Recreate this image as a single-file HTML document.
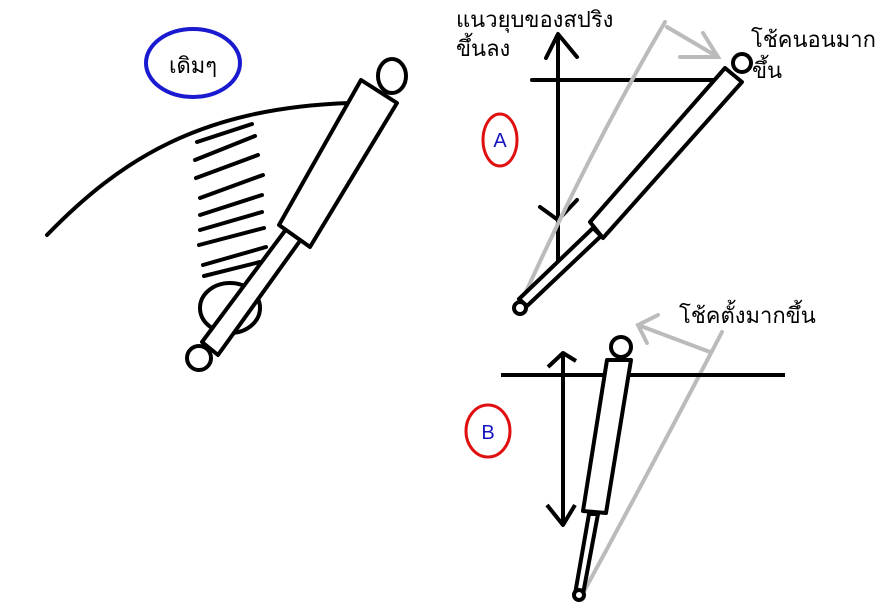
<!DOCTYPE html>
<html><head><meta charset="utf-8"><style>
html,body{margin:0;padding:0;background:#fff;width:881px;height:612px;overflow:hidden}
svg{display:block}
text{font-family:"Liberation Sans","DejaVu Sans",sans-serif}
</style></head><body>
<svg width="881" height="612" viewBox="0 0 881 612">
<g fill="none" stroke="#000" stroke-width="4" stroke-linecap="round" stroke-linejoin="round">
<!-- left figure -->
<path d="M47,235 C120,160 200,108 350,103"/>
<path d="M197,142 L252,124 M195,160 L255,136 M196,178 L258,155 M200,198 L263,175 M200,215 L262,195 M200,230 L262,212 M199,245 L264,228 M203,265 L266,247 M204,276 L260,262"/>
<ellipse cx="230" cy="308" rx="30" ry="25"/>
<polygon points="287,228 302,238 218,355 202,342" fill="#fff"/>
<polygon points="361,80 397,103 310,247 279,225" fill="#fff"/>
<ellipse cx="392" cy="76" rx="14" ry="17" fill="#fff"/>
<circle cx="199" cy="358" r="12" fill="#fff"/>
<!-- A figure -->
<line x1="532" y1="80" x2="717" y2="80"/>
<line x1="558" y1="35" x2="558" y2="275"/>
<polyline points="546,58 558,34 577,57"/>
<polyline points="540,207 558,220 577,200"/>
</g>
<g fill="none" stroke="#bbb" stroke-width="4" stroke-linecap="round">
<path d="M520,305 Q590,150 665,22"/>
<line x1="667" y1="27" x2="718" y2="57"/>
<polyline points="680,57 718,57 703,33"/>
<path d="M582,595 Q650,470 722,332"/>
<line x1="710" y1="352" x2="638" y2="325"/>
<polyline points="658,315 638,325 647,343"/>
</g>
<g fill="none" stroke="#000" stroke-width="4" stroke-linejoin="round">
<polygon points="593,228 601,236 527,306 519,299" fill="#fff"/>
<polygon points="725,68 742,82 603,238 590,222" fill="#fff"/>
<circle cx="742" cy="63" r="9" fill="#fff"/>
<circle cx="520" cy="308" r="6" fill="#fff"/>
<!-- B figure -->
<line x1="501" y1="375" x2="785" y2="375"/>
<line x1="563" y1="354" x2="563" y2="524"/>
<polyline points="548,367 563,353 576,361"/>
<polyline points="547,505 563,525 575,505"/>
<polygon points="589,514 598,514 583,594 575,594" fill="#fff"/>
<polygon points="607,360 631,360 606,513 583,511" fill="#fff"/>
<circle cx="621" cy="347" r="10" fill="#fff"/>
<circle cx="579" cy="595" r="5" fill="#fff"/>
</g>
<ellipse cx="193" cy="63" rx="47" ry="34" fill="none" stroke="#1a1ad0" stroke-width="4"/>
<text x="193" y="73" font-size="22" text-anchor="middle" fill="#000">เดิมๆ</text>
<ellipse cx="500" cy="140" rx="17" ry="26" fill="none" stroke="#e01010" stroke-width="3"/>
<text x="500" y="147" font-size="20" text-anchor="middle" fill="#1515c0">A</text>
<ellipse cx="488" cy="431" rx="22" ry="26" fill="none" stroke="#e01010" stroke-width="3"/>
<text x="488" y="439" font-size="20" text-anchor="middle" fill="#1515c0">B</text>
<g font-size="22" fill="#000">
<text x="456" y="27">แนวยุบของสปริง</text>
<text x="456" y="56">ขึ้นลง</text>
<text x="751" y="47">โช้คนอนมาก</text>
<text x="752" y="78">ขึ้น</text>
<text x="679" y="323">โช้คตั้งมากขึ้น</text>
</g>
</svg>
</body></html>
